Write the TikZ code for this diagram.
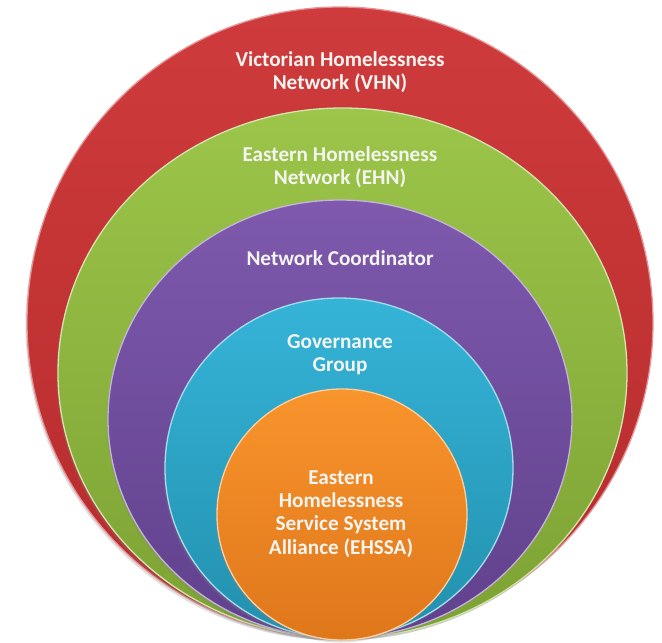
\documentclass[tikz,border=0pt]{standalone}
\usepackage{fontspec}
\setmainfont{Carlito}
\usetikzlibrary{shadows}
\definecolor{redT}{HTML}{CF3B3C}
\definecolor{redB}{HTML}{B52B2C}
\definecolor{grnT}{HTML}{9CC54A}
\definecolor{grnB}{HTML}{7CA233}
\definecolor{purT}{HTML}{7E59AD}
\definecolor{purB}{HTML}{60418C}
\definecolor{cyaT}{HTML}{35B4D8}
\definecolor{cyaB}{HTML}{2390AE}
\definecolor{oraT}{HTML}{F8942C}
\definecolor{oraB}{HTML}{DF771B}
\definecolor{txt}{HTML}{F4F4F0}
\tikzset{
  ring/.style={line width=1.3pt, drop shadow={opacity=0.25, shadow xshift=-1.5pt, shadow yshift=-2.5pt}},
  lbl/.style={font=\bfseries\fontsize{21.2}{23.3}\selectfont, text=txt, align=center, inner sep=0pt}
}
\begin{document}
\begin{tikzpicture}[x=1pt,y=-1pt]
\useasboundingbox (0,0) rectangle (662,643);
\shade[ring, draw=redT!55!white, top color=redT, bottom color=redB]
  (340,322.5) ellipse [x radius=313pt, y radius=315.5pt];
\shade[ring, draw=grnT!45!white, top color=grnT, bottom color=grnB]
  (342.5,373) ellipse [x radius=284.5pt, y radius=265pt];
\shade[ring, draw=purT!45!white, top color=purT, bottom color=purB]
  (340,419) ellipse [x radius=232pt, y radius=219pt];
\shade[ring, draw=cyaT!45!white, top color=cyaT, bottom color=cyaB]
  (339,468) ellipse [x radius=174pt, y radius=170pt];
\shade[ring, draw=oraT!45!white, top color=oraT, bottom color=oraB]
  (342,514.5) ellipse [x radius=125pt, y radius=125.5pt];
\node[lbl] (vhn) at (340,72) {Victorian Homelessness\\Network (VHN)};
\node[lbl] (ehn) at (340,167) {Eastern Homelessness\\Network (EHN)};
\node[lbl] (nc) at (340,258) {Network Coordinator};
\node[lbl] (gg) at (340,355) {Governance\\Group};
\node[lbl] (ehssa) at (341,514) {Eastern\\Homelessness\\Service System\\Alliance (EHSSA)};
\end{tikzpicture}
\end{document}
